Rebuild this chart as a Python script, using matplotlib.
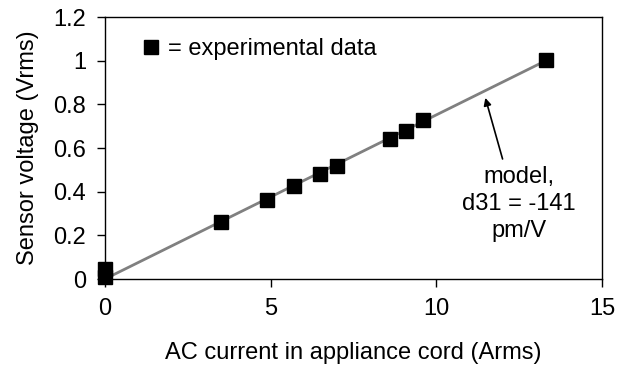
import matplotlib
matplotlib.use('Agg')
import matplotlib.pyplot as plt

current = [0.0, 0.0, 3.5, 4.9, 5.7, 6.5, 7.0, 8.6, 9.1, 9.6, 13.3]
voltage = [0.01, 0.045, 0.26, 0.36, 0.425, 0.48, 0.52, 0.64, 0.68, 0.73, 1.005]

# model line, d31 = -141 pm/V
model_x = [0.0, 13.3]
model_y = [0.0, 1.0]

x_ticks = [0, 5, 10, 15]
y_ticks = [0, 0.2, 0.4, 0.6, 0.8, 1.0, 1.2]
y_labels = ['0', '0.2', '0.4', '0.6', '0.8', '1', '1.2']

plt.rcParams['font.family'] = ['Liberation Sans', 'DejaVu Sans']
plt.rcParams['font.size'] = 17

fig = plt.figure(figsize=(6.32, 3.72), dpi=100)
ax = fig.add_axes([0.166, 0.25, 0.7865, 0.704])

ax.plot(model_x, model_y, color='#808080', linewidth=2, zorder=2)
ax.plot(current, voltage, 's', color='black', markersize=10.5, zorder=3,
        clip_on=False, label='= experimental data')

ax.set_xlim(0, 15)
ax.set_ylim(0, 1.2)
ax.set_xticks(x_ticks)
ax.set_yticks(y_ticks)
ax.set_yticklabels(y_labels)
ax.tick_params(direction='out', length=5.5, width=1, top=False, right=False, pad=8)
for s in ax.spines.values():
    s.set_linewidth(1)

ax.set_xlabel('AC current in appliance cord (Arms)', labelpad=16)
ax.set_ylabel('Sensor voltage (Vrms)', labelpad=10)

ax.legend(loc='upper left', bbox_to_anchor=(0.06, 0.955), frameon=False,
          handlelength=0.6, handletextpad=0.4, markerscale=0.9, numpoints=1,
          borderaxespad=0)

# arrow pointing at the model line, with its label below
ax.annotate('', xy=(11.48, 0.83), xytext=(12.0, 0.55),
            arrowprops=dict(arrowstyle='-|>', color='black', lw=1.2,
                            mutation_scale=11, shrinkA=0, shrinkB=0))
ax.text(12.5, 0.343, 'model,\nd31 = -141\npm/V', ha='center', va='center',
        linespacing=1.3)

fig.savefig('out.png', dpi=100)
